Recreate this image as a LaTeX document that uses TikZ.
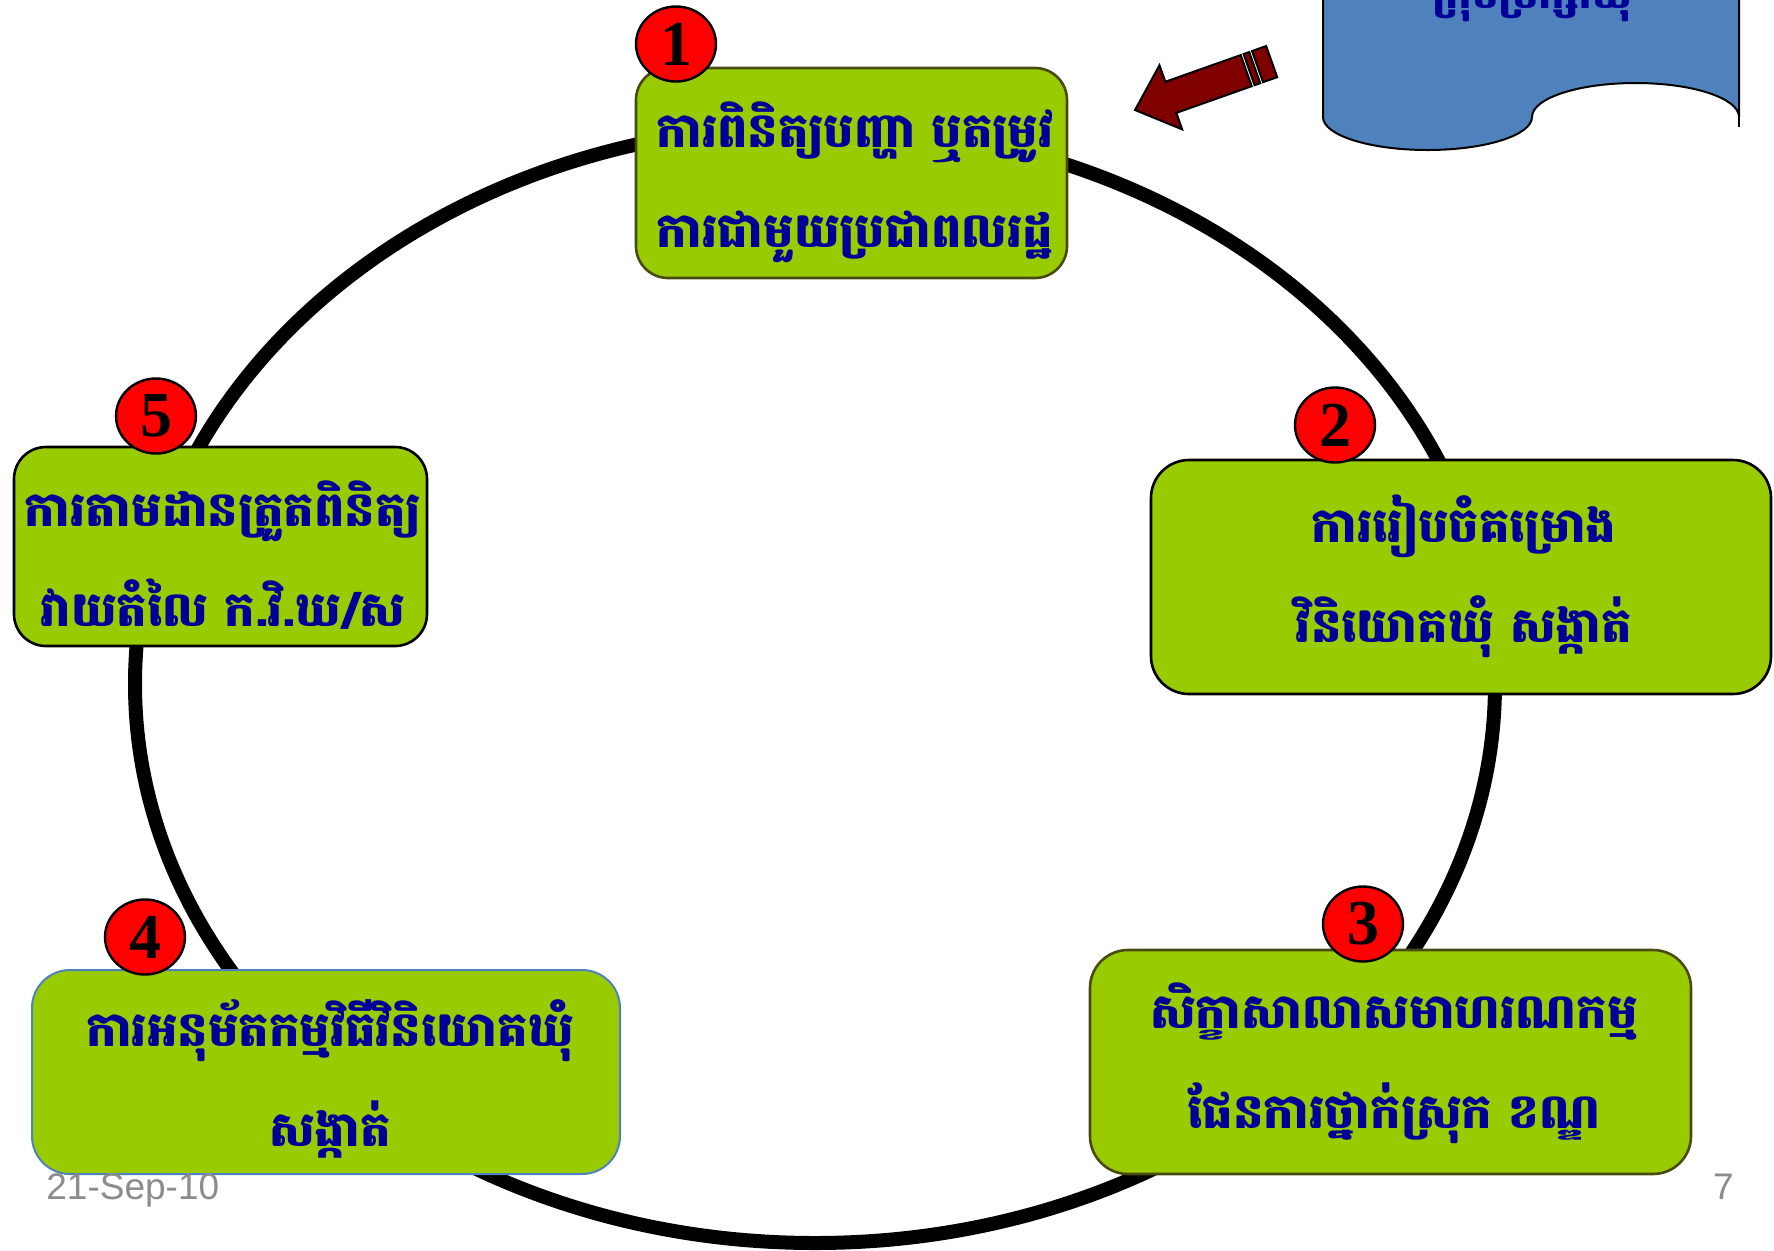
\documentclass[tikz,border=0pt]{standalone}
\usepackage{fontspec}
\setmainfont{Liberation Serif}
\newfontfamily\khmer[Script=Khmer]{Battambang}
\newfontfamily\numfont{Liberation Serif}
\newfontfamily\datefont{Liberation Sans}
\usetikzlibrary{shapes.geometric}
\definecolor{boxgreen}{HTML}{99CC00}
\definecolor{navytext}{HTML}{000099}
\definecolor{olive}{HTML}{4A4A10}
\definecolor{boxblue}{HTML}{4F81BD}
\definecolor{docblue}{HTML}{4F81BD}
\definecolor{arrowred}{HTML}{800000}
\definecolor{dategray}{HTML}{8C8C8C}
\begin{document}
\begin{tikzpicture}[x=0.5pt,y=-0.5pt,
  box/.style={draw, fill=boxgreen, rounded corners=16pt, line width=1.3pt, inner sep=0pt},
  ktext/.style={font=\khmer\bfseries\fontsize{24}{50}\selectfont, text=navytext, align=center, inner sep=0pt},
  badge/.style={ellipse, draw=black, fill=red, line width=1.2pt, minimum width=40pt, minimum height=37.5pt, inner sep=0pt, font=\numfont\bfseries\fontsize{32}{32}\selectfont},
  foot/.style={font=\datefont\fontsize{18.5}{18.5}\selectfont, text=dategray, inner sep=0pt}]
\useasboundingbox (0,0) rectangle (1774,1250);
\fill[white] (0,0) rectangle (1774,1250);

% cycle ring
\draw[line width=7pt] (815,684) ellipse [x radius=340pt, y radius=279.5pt];

% document shape (top right), its top runs off the page
\filldraw[fill=docblue, draw=black, line width=1pt]
  (1323,-10) -- (1323,117)
  arc[start angle=180, end angle=360, x radius=52.25pt, y radius=16.5pt]
  arc[start angle=180, end angle=0, x radius=51.75pt, y radius=17pt]
  -- (1739,-10);
\draw[line width=1pt] (1739,117) -- (1739,127);
\node[font=\khmer\bfseries\fontsize{21}{21}\selectfont, text=navytext, anchor=base, inner sep=0pt] (doc) at (1532,8) {ក្រុមប្រឹក្សាឃុំ};

% block arrow
\begin{scope}[shift={(1135,110)}, rotate=19.5]
  \filldraw[fill=arrowred, draw=black, line width=1pt, line join=miter]
    (0,0) -- (38,-34) -- (38,-16.5) -- (118,-16.5) -- (118,16.5) -- (38,16.5) -- (38,34) -- cycle;
  \filldraw[fill=arrowred, draw=black, line width=1pt] (121,-16.5) rectangle (127,16.5);
  \filldraw[fill=arrowred, draw=black, line width=1pt] (130,-16.5) rectangle (145,16.5);
\end{scope}

% boxes
\node[box, draw=olive, minimum width=215.5pt, minimum height=105pt] (b1) at (851.5,173) {};
\node[box, draw=black, minimum width=310pt, minimum height=117pt, rounded corners=19pt] (b2) at (1461,577) {};
\node[box, draw=olive, minimum width=300.5pt, minimum height=112pt, rounded corners=19pt] (b3) at (1390.5,1062) {};
\node[box, draw=boxblue, line width=1pt, minimum width=294pt, minimum height=102pt, rounded corners=19pt] (b4) at (326,1072) {};
\node[box, draw=black, minimum width=206.5pt, minimum height=99.5pt] (b5) at (220.5,546.5) {};

% texts
\node[ktext] (t1) at (855,182) {ការពិនិត្យបញ្ហា ឬតម្រូវ\\ការជាមួយប្រជាពលរដ្ឋ};
\node[ktext] (t2) at (1464,576) {ការរៀបចំគម្រោង\\វិនិយោគឃុំ សង្កាត់};
\node[ktext] (t3) at (1394,1063) {សិក្ខាសាលាសមាហរណកម្ម\\ផែនការថ្នាក់ស្រុក ខណ្ឌ};
\node[ktext] (t4) at (330,1079) {ការអនុម័តកម្មវិធីវិនិយោគឃុំ\\សង្កាត់};
\node[ktext] (t5) at (223,555) {ការតាមដានត្រួតពិនិត្យ\\វាយតំលៃ ក.វិ.ឃ/ស};

% number badges
\node[badge] (n1) at (676,44) {1};
\node[badge] (n2) at (1335,425) {2};
\node[badge] (n3) at (1363,924) {3};
\node[badge] (n4) at (145,937) {4};
\node[badge] (n5) at (156,416) {5};

% footer
\node[foot, anchor=base west] (date) at (46,1199) {21-Sep-10};
\node[foot, anchor=base east] (page) at (1734,1199) {7};
\end{tikzpicture}
\end{document}
